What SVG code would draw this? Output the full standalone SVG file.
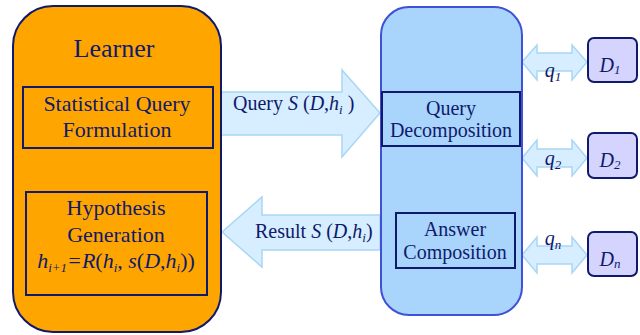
<svg xmlns="http://www.w3.org/2000/svg" width="640" height="335" viewBox="0 0 640 335" font-family="Liberation Serif, Times New Roman, serif">
<style>
text{fill:#0f1a6b}
.c{text-anchor:middle}
.t{font-size:20px}
.b{font-size:22px}
.i{font-style:italic}
.s{font-size:13px}
.inner{fill:none;stroke:#0f1a6b;stroke-width:2}
.arr{fill:#d6eeff;stroke:#a9d6f5;stroke-width:1.5}
.db{fill:#d4d4ff;stroke:#0f1a6b;stroke-width:2}
</style>
<rect width="640" height="335" fill="#fff"/>
<g id="connectors">
<polygon class="arr" points="221,92 342,92 342,70 380,113 342,157 342,135 221,135"/>
<polygon class="arr" points="380,215 262,215 262,197 222,232 262,267 262,250 380,250"/>
<polygon class="arr" points="522,62 537,45 537,53 572,53 572,45 587,62 572,80 572,71 537,71 537,80"/>
<polygon class="arr" points="522,158 537,140 537,149 572,149 572,140 587,158 572,176 572,167 537,167 537,176"/>
<polygon class="arr" points="522,255 537,237 537,246 572,246 572,237 587,255 572,273 572,264 537,264 537,273"/>
<text x="233" y="110" class="t">Query <tspan class="i">S</tspan> (<tspan class="i">D</tspan>,<tspan class="i">h</tspan><tspan class="i s" dy="4">i</tspan><tspan dy="-4"> )</tspan></text>
<text x="255" y="238" class="t">Result <tspan class="i">S</tspan> (<tspan class="i">D</tspan>,<tspan class="i">h</tspan><tspan class="i s" dy="4">i</tspan><tspan dy="-4">)</tspan></text>
<text x="553" y="77" class="t i c">q<tspan class="s" dy="4">1</tspan></text>
<text x="553" y="165" class="t i c">q<tspan class="s" dy="4">2</tspan></text>
<text x="553" y="245" class="t i c">q<tspan class="s" dy="4">n</tspan></text>
</g>
<g id="learner">
<rect x="13" y="6" width="208" height="326" rx="40" fill="#ffa500" stroke="#0f1a6b" stroke-width="2"/>
<text x="114" y="57" font-size="26" class="c">Learner</text>
</g>
<g id="sqf">
<rect class="inner" x="23" y="87" width="190" height="61"/>
<text x="117" y="111" class="b c">Statistical Query</text>
<text x="117" y="137" class="b c">Formulation</text>
</g>
<g id="hyp">
<rect class="inner" x="26" y="192" width="181" height="103"/>
<text x="116" y="215" class="b c">Hypothesis</text>
<text x="116" y="242" class="b c">Generation</text>
<text x="116" y="268" class="b c"><tspan class="i">h</tspan><tspan class="i s" dy="4">i+1</tspan><tspan class="i" dy="-4">=R</tspan>(<tspan class="i">h</tspan><tspan class="i s" dy="4">i</tspan><tspan dy="-4">, </tspan><tspan class="i">s</tspan>(<tspan class="i">D</tspan>,<tspan class="i">h</tspan><tspan class="i s" dy="4">i</tspan><tspan dy="-4">))</tspan></text>
</g>
<g id="mediator">
<rect x="381" y="7" width="141" height="308" rx="28" fill="#a9d4fc" stroke="#3f51d6" stroke-width="2"/>
</g>
<g id="qd">
<rect class="inner" x="382" y="92" width="138" height="54"/>
<text x="451" y="115" class="t c">Query</text>
<text x="451" y="137" class="t c">Decomposition</text>
</g>
<g id="ac">
<rect class="inner" x="396" y="213" width="119" height="55"/>
<text x="455" y="236" class="t c">Answer</text>
<text x="455" y="259" class="t c">Composition</text>
</g>
<g id="d1">
<rect class="db" x="588" y="38" width="49" height="44" rx="6"/>
<text x="610" y="72" class="t i c">D<tspan class="s" dy="2">1</tspan></text>
</g>
<g id="d2">
<rect class="db" x="588" y="133" width="49" height="45" rx="6"/>
<text x="610" y="167" class="t i c">D<tspan class="s" dy="2">2</tspan></text>
</g>
<g id="dn">
<rect class="db" x="588" y="232" width="49" height="44" rx="6"/>
<text x="610" y="266" class="t i c">D<tspan class="s" dy="2">n</tspan></text>
</g>
</svg>
